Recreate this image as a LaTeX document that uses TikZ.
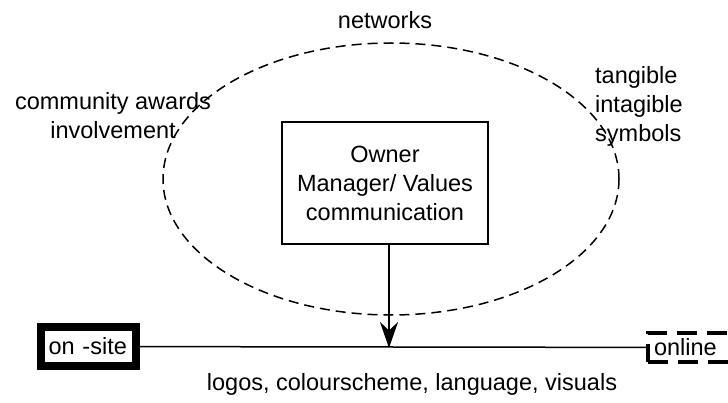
\documentclass[tikz,border=0pt]{standalone}
\usepackage{fontspec}
\setmainfont{Liberation Sans}
\usetikzlibrary{shapes.geometric,arrows.meta}

\begin{document}
\begin{tikzpicture}[
    x=1pt, y=-1pt,
    every node/.style={font=\fontsize{23.5}{29}\selectfont},
    lbl/.style={align=center, inner sep=0pt},
    ring/.style={ellipse, draw, dash pattern=on 10pt off 6pt, line width=1.5pt, inner sep=0pt, minimum width=456pt, minimum height=272pt},
    box/.style={rectangle, draw, line width=1.5pt, align=center, minimum width=206pt, minimum height=122pt},
    arrow/.style={-{Stealth[length=26pt,width=18pt]}, line width=1.5pt}
]
\useasboundingbox (0,0) rectangle (728,403);
\clip (0,0) rectangle (728,403);

\node[ring] (values) at (391,179) {};
\node[box] (owner) at (385,183) {Owner\\Manager/ Values\\communication};

\node[rectangle, draw, line width=8pt, minimum width=95pt, minimum height=39pt, text width=80pt, inner sep=3pt] (onsite) at (88.5,346.5) {on -site};
\node[rectangle, draw, line width=4pt, dash pattern=on 20pt off 10pt, minimum width=100pt, minimum height=29pt, text width=88pt, inner sep=3pt] (online) at (698,347.5) {online};

\coordinate (hit) at (389,348);
\draw[line width=1.5pt] (onsite) -- (online);
\draw[arrow] (owner.south -| hit) -- (hit);

\node[lbl] (networks) at (385,20) {networks};
\node[lbl] (community) at (113,116) {community awards\\involvement};
\node[lbl, align=left, anchor=west] (tangible) at (595,106) {tangible\\intagible\\symbols};
\node[lbl] (visuals) at (412,384) {logos, colourscheme, language, visuals};
\end{tikzpicture}
\end{document}
